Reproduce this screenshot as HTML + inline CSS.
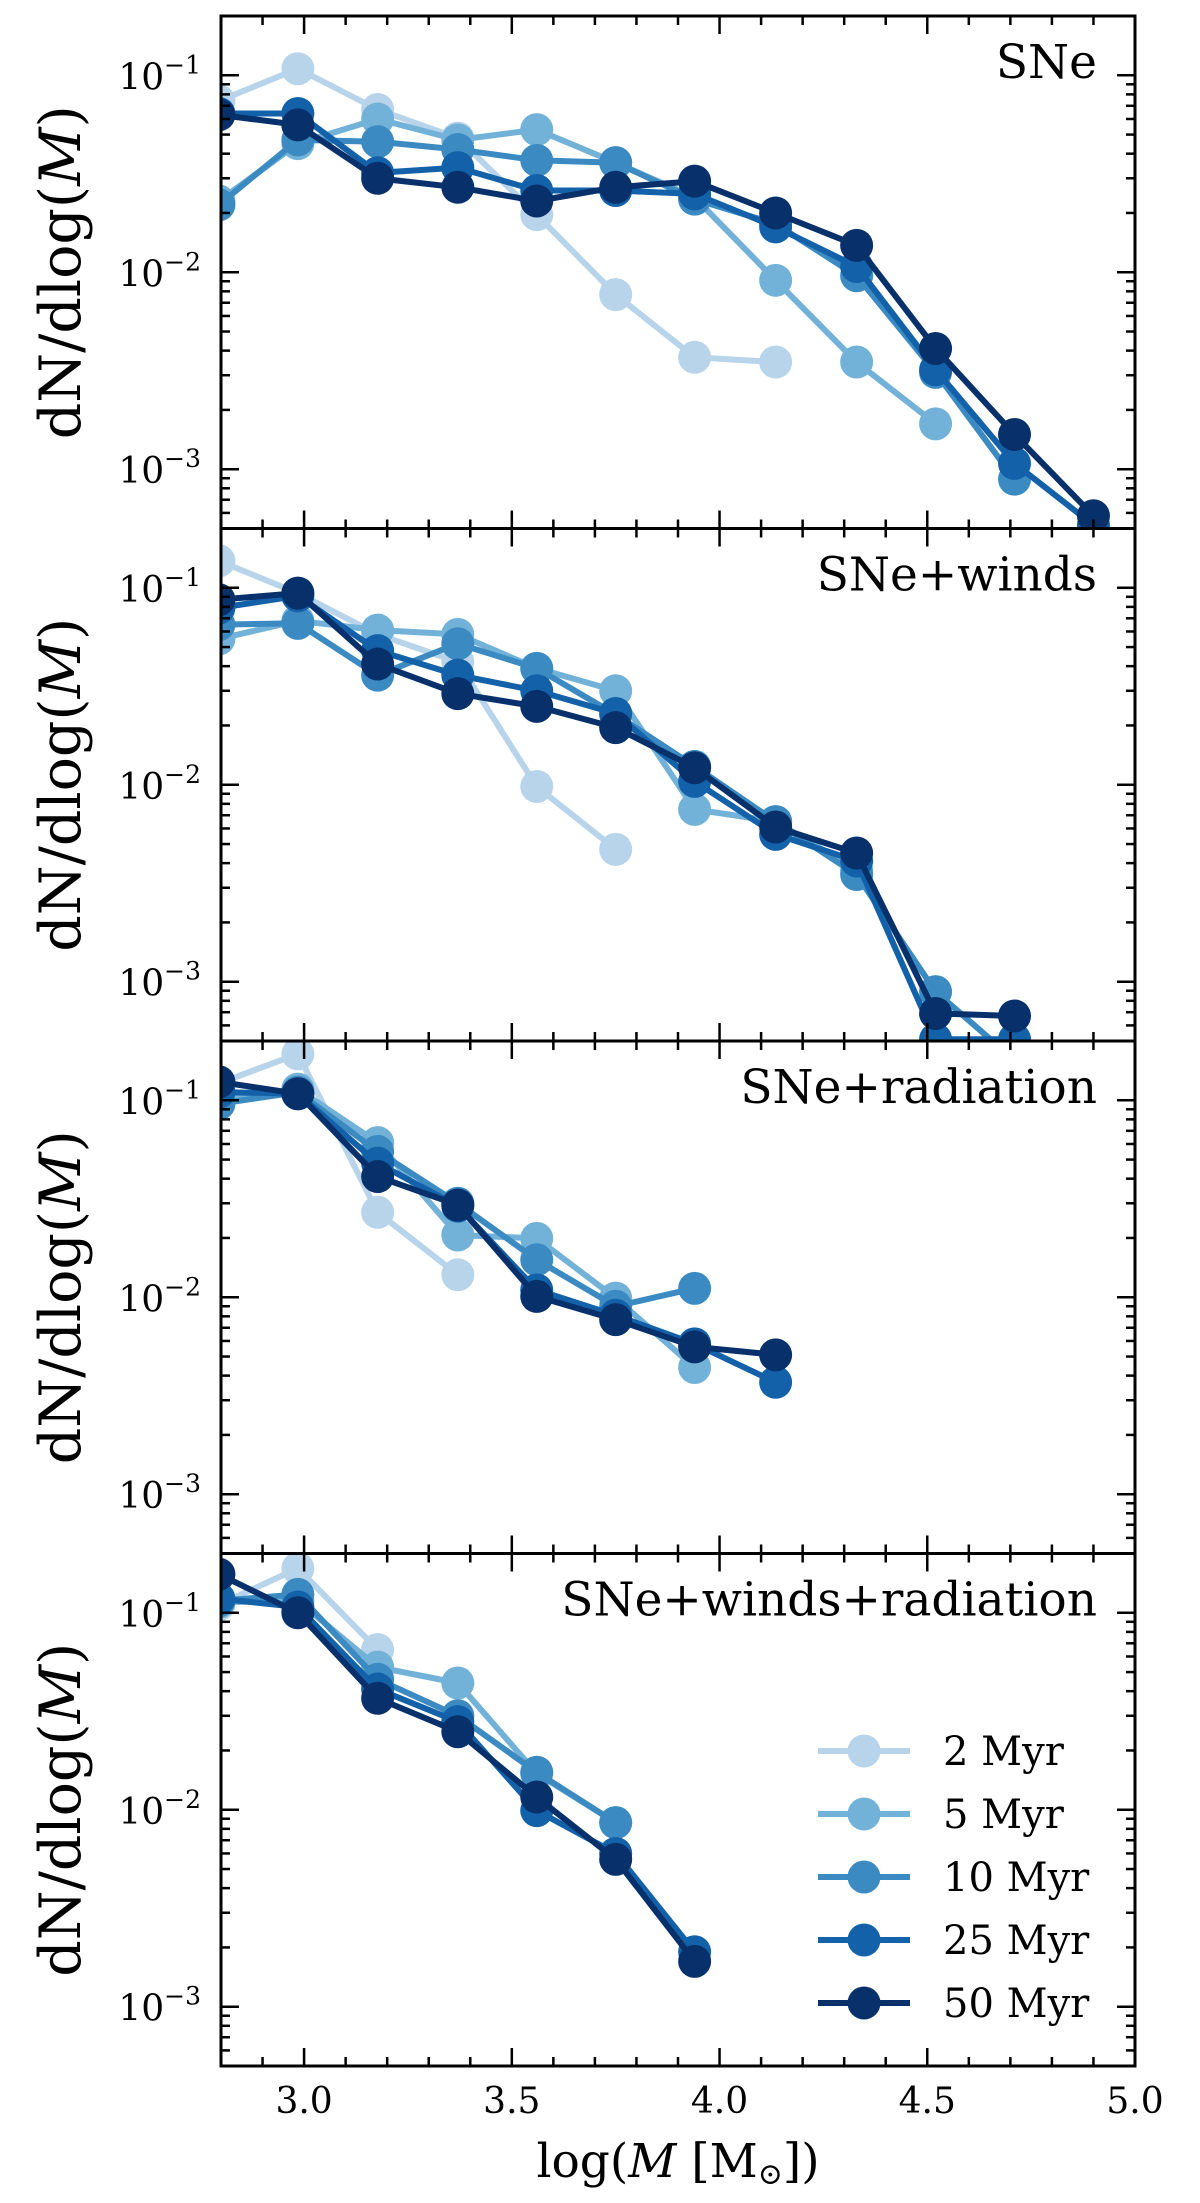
<!DOCTYPE html>
<html><head><meta charset="utf-8">
<style>
html,body{margin:0;padding:0;background:#fff;}
svg{display:block;font-family:"DejaVu Serif","Liberation Serif",serif;}
</style></head>
<body>
<svg id="chart" width="1200" height="2203" viewBox="0 0 1200 2203" xmlns="http://www.w3.org/2000/svg"></svg>
<script>
const massBins = [2.795, 2.985, 3.177, 3.37, 3.56, 3.75, 3.94, 4.135, 4.33, 4.52, 4.71, 4.90];
const seriesLabels = ["2 Myr", "5 Myr", "10 Myr", "25 Myr", "50 Myr"];
const panelTitles = ["SNe", "SNe+winds", "SNe+radiation", "SNe+winds+radiation"];
const xTickValues = [3.0, 3.5, 4.0, 4.5, 5.0];
const xTickLabels = ["3.0", "3.5", "4.0", "4.5", "5.0"];
const yTickExponents = [-1, -2, -3];
// Panel 1: SNe
const sne2 = [0.074, 0.108, 0.067, 0.048, 0.0196, 0.0077, 0.0037, 0.0035];
const sne5 = [0.023, 0.045, 0.060, 0.047, 0.053, 0.036, 0.024, 0.0091, 0.0035, 0.0017];
const sne10 = [0.022, 0.047, 0.046, 0.042, 0.037, 0.036, 0.0235, 0.0176, 0.0096, 0.0031, 0.00089];
const sne25 = [0.064, 0.064, 0.032, 0.034, 0.026, 0.026, 0.025, 0.017, 0.0107, 0.0032, 0.00107, 0.00052];
const sne50 = [0.063, 0.056, 0.030, 0.027, 0.023, 0.027, 0.029, 0.020, 0.0137, 0.0041, 0.0015, 0.00058];
// Panel 2: SNe+winds
const win2 = [0.137, 0.094, 0.058, 0.042, 0.0098, 0.0047];
const win5 = [0.055, 0.068, 0.061, 0.058, 0.039, 0.030, 0.0075, 0.0065, 0.0037];
const win10 = [0.065, 0.066, 0.036, 0.052, 0.039, 0.0227, 0.0124, 0.0065, 0.0035, 0.00089, 0.0004];
const win25 = [0.079, 0.091, 0.048, 0.036, 0.030, 0.023, 0.0104, 0.0056, 0.0041, 0.00051, 0.00051];
const win50 = [0.087, 0.094, 0.041, 0.029, 0.025, 0.0195, 0.0122, 0.0061, 0.0045, 0.00069, 0.00067];
// Panel 3: SNe+radiation
const rad2 = [0.122, 0.172, 0.027, 0.013];
const rad5 = [0.100, 0.114, 0.061, 0.0207, 0.0199, 0.0099, 0.0044];
const rad10 = [0.096, 0.110, 0.055, 0.030, 0.0155, 0.0090, 0.0111];
const rad25 = [0.110, 0.108, 0.048, 0.029, 0.0109, 0.0081, 0.0058, 0.0037];
const rad50 = [0.124, 0.108, 0.041, 0.0294, 0.0101, 0.0077, 0.0056, 0.0051];
// Panel 4: SNe+winds+radiation
const all2 = [0.110, 0.168, 0.065];
const all5 = [0.113, 0.115, 0.053, 0.044, 0.0153, 0.0086];
const all10 = [0.115, 0.124, 0.046, 0.030, 0.0155, 0.0086];
const all25 = [0.118, 0.107, 0.041, 0.028, 0.0099, 0.0060, 0.0019];
const all50 = [0.157, 0.100, 0.0368, 0.0249, 0.0116, 0.0056, 0.0017];

const panelData = [
  [sne2, sne5, sne10, sne25, sne50],
  [win2, win5, win10, win25, win50],
  [rad2, rad5, rad10, rad25, rad50],
  [all2, all5, all10, all25, all50]
];
const colors = ["#b7d4ea", "#73b2d8", "#3b8bc2", "#1361a9", "#08306b"];

const NS = "http://www.w3.org/2000/svg";
const svg = document.getElementById("chart");
const L = 221, R = 1135, PH = 512.5, TOP0 = 16;
const XMIN = 2.8, XMAX = 5.0, YMIN = Math.log10(5e-4), YMAX = Math.log10(0.2);
function xs(v){ return L + (v - XMIN) / (XMAX - XMIN) * (R - L); }
function ys(v, top){ return top + (YMAX - Math.log10(v)) / (YMAX - YMIN) * PH; }
function mk(tag, attrs, parent){
  const e = document.createElementNS(NS, tag);
  for (const k in attrs) e.setAttribute(k, attrs[k]);
  (parent || svg).appendChild(e);
  return e;
}

for (let p = 0; p < 4; p++){
  const top = TOP0 + p * PH, bot = top + PH;
  const g = mk("g", {});
  
  
  const cp = mk("clipPath", {id: "clip" + p});
  mk("rect", {x: L, y: top, width: R - L, height: PH}, cp);
  const plot = mk("g", {"clip-path": "url(#clip" + p + ")"}, g);
  panelData[p].forEach((vals, s) => {
    const sg = mk("g", {}, plot);
    
    
    const pts = vals.map((v, i) => xs(massBins[i]).toFixed(1) + "," + ys(v, top).toFixed(1)).join(" ");
    mk("polyline", {points: pts, fill: "none", stroke: colors[s], "stroke-width": 6, "stroke-linejoin": "round"}, sg);
    vals.forEach((v, i) => {
      const c = mk("circle", {cx: xs(massBins[i]), cy: ys(v, top), r: 16.5, fill: colors[s]}, sg);
      
      
    });
  });
  const tk = mk("g", {stroke: "#000", "stroke-width": 2.5}, g);
  for (let v = 2.9; v <= 5.0001; v += 0.1){
    const x = xs(v);
    const major = Math.abs(v * 2 - Math.round(v * 2)) < 1e-6;
    const len = major ? 18 : 9;
    mk("line", {x1: x, y1: top, x2: x, y2: top + len}, tk);
    mk("line", {x1: x, y1: bot, x2: x, y2: bot - len}, tk);
  }
  for (let e = -4; e <= 0; e++){
    for (let m = 1; m <= 9; m++){
      const v = m * Math.pow(10, e);
      const lv = Math.log10(v);
      if (lv < YMIN || lv > YMAX) continue;
      const y = ys(v, top);
      const len = m === 1 ? 18 : 9;
      mk("line", {x1: L, y1: y, x2: L + len, y2: y}, tk);
      mk("line", {x1: R, y1: y, x2: R - len, y2: y}, tk);
    }
  }
  yTickExponents.forEach(ex => {
    const y = ys(Math.pow(10, ex), top);
    const t = mk("text", {x: 201, y: y + 14, "text-anchor": "end", "font-size": 36, fill: "#000"}, g);
    
    
    t.textContent = "10";
    const sup = mk("tspan", {dy: -16, "font-size": 25}, t);
    sup.textContent = "\u2212" + Math.abs(ex);
  });
  const fr = mk("rect", {x: L, y: top, width: R - L, height: PH, fill: "none", stroke: "#000", "stroke-width": 3}, g);
  
  
  const tt = mk("text", {x: 1097, y: top + 62, "text-anchor": "end", "font-size": 47, fill: "#000"}, g);
  
  
  tt.textContent = panelTitles[p];
  const cy = top + PH / 2;
  const yl = mk("text", {x: 0, y: 0, "text-anchor": "middle", "font-size": 57, fill: "#000", transform: "translate(80," + cy + ") rotate(-90)"}, g);
  
  
  yl.textContent = "dN/dlog(";
  const it = mk("tspan", {"font-style": "italic"}, yl);
  it.textContent = "M";
  const cl = mk("tspan", {}, yl);
  cl.textContent = ")";
}

const bottom = TOP0 + 4 * PH;
xTickValues.forEach((v, i) => {
  const t = mk("text", {x: xs(v), y: bottom + 47, "text-anchor": "middle", "font-size": 36, fill: "#000"});
  
  
  t.textContent = xTickLabels[i];
});
const xl = mk("text", {x: (L + R) / 2, y: 2177, "text-anchor": "middle", "font-size": 47, fill: "#000"});


xl.innerHTML = 'log(<tspan font-style="italic">M</tspan> [M<tspan font-size="30" dy="7">\u2299</tspan><tspan dy="-7">])</tspan>';

const lg = mk("g", {});


seriesLabels.forEach((lab, s) => {
  const y = 1751 + s * 63;
  const e = mk("g", {}, lg);
  
  
  mk("line", {x1: 818, y1: y, x2: 910, y2: y, stroke: colors[s], "stroke-width": 6}, e);
  mk("circle", {cx: 864, cy: y, r: 16.5, fill: colors[s]}, e);
  const t = mk("text", {x: 943, y: y + 14, "font-size": 40, fill: "#000"}, e);
  t.textContent = lab;
});
</script>
</body></html>
